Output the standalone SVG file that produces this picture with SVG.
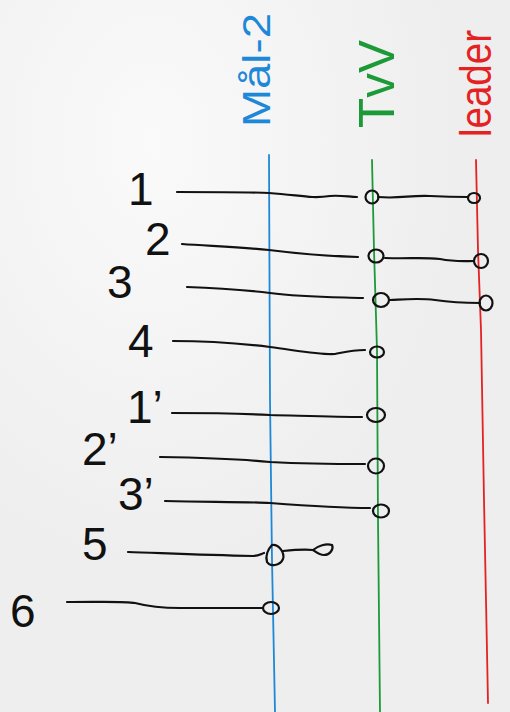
<svg xmlns="http://www.w3.org/2000/svg" width="510" height="712" viewBox="0 0 510 712">
<defs>
<radialGradient id="g1" cx="0.3" cy="0.2" r="0.6"><stop offset="0" stop-color="#fafafa"/><stop offset="1" stop-color="#eeeeee"/></radialGradient>
<style>
.num{font-family:"Liberation Sans","DejaVu Sans",sans-serif;font-size:46px;fill:#111}
.lab{font-family:"Liberation Sans","DejaVu Sans",sans-serif}
.ln{fill:none;stroke:#111;stroke-width:2.2;stroke-linecap:round;stroke-linejoin:round}
.c{fill:none;stroke:#111;stroke-width:2.2}
.v{fill:none;stroke-width:1.8;stroke-linecap:round}
</style>
</defs>
<rect width="510" height="712" fill="url(#g1)"/>
<g id="lanes">
<g id="lane-mal2"><path class="v" stroke="#1e88d8" d="M269,155 L270,400 L272,560 L275,712"/>
<text class="lab" fill="#1e88d8" font-size="38" textLength="114" lengthAdjust="spacingAndGlyphs" transform="translate(270,127) rotate(-90)">Mål-2</text></g>
<g id="lane-tvv"><path class="v" stroke="#1c9a38" d="M372,160 L374,250 L377,350 L378,520 L380,712"/>
<text class="lab" fill="#1c9a38" font-size="50" textLength="88" lengthAdjust="spacingAndGlyphs" transform="translate(394,128) rotate(-90)">TvV</text></g>
<g id="lane-leader"><path class="v" stroke="#e52222" d="M476,160 L478,250 L481,330 L484,500 L486,600 L488,703"/>
<text class="lab" fill="#e52222" font-size="44" textLength="107" lengthAdjust="spacingAndGlyphs" transform="translate(491,137) rotate(-90)">leader</text></g>
</g>
<g id="labels">
<text class="num" x="128" y="205" font-size="52">1</text>
<text class="num" x="145" y="255">2</text>
<text class="num" x="107" y="298" font-size="40">3</text>
<text class="num" x="128" y="357">4</text>
<text class="num" x="127" y="423">1’</text>
<text class="num" x="82" y="465">2’</text>
<text class="num" x="118" y="510">3’</text>
<text class="num" x="82" y="560">5</text>
<text class="num" x="10" y="627">6</text>
</g>
<g id="connectors">
<path class="ln" d="M177,192 C220,192 250,192 269,193 C300,195 310,199 330,196 C340,195 350,197 357,197"/>
<ellipse class="c" cx="372" cy="197" rx="6.5" ry="6.5"/>
<path class="ln" d="M378,197 C400,199 410,195 430,196 C450,197 460,197 468,197"/>
<ellipse class="c" cx="474" cy="198" rx="6" ry="5"/>

<path class="ln" d="M182,244 C210,246 240,247 269,250 C300,254 330,256 358,257"/>
<ellipse class="c" cx="376" cy="256" rx="7.5" ry="6.5"/>
<path class="ln" d="M385,258 C410,259 420,257 440,259 C455,262 465,261 474,261"/>
<ellipse class="c" cx="481" cy="261" rx="7" ry="7"/>

<path class="ln" d="M187,287 C220,288 245,290 270,293 C300,297 330,297 363,298"/>
<ellipse class="c" cx="381" cy="300" rx="8" ry="7"/>
<path class="ln" d="M390,300 C410,299 420,298 435,300 C455,303 465,303 480,303"/>
<ellipse class="c" cx="486" cy="303" rx="6.5" ry="7.5"/>

<path class="ln" d="M173,341 C210,341 245,344 270,347 C300,351 320,355 335,354 C345,352 352,350 365,350"/>
<ellipse class="c" cx="377" cy="352" rx="7" ry="5.5"/>

<path class="ln" d="M172,413 C220,413 250,414 270,415 C310,416 340,417 362,417"/>
<ellipse class="c" cx="376" cy="415" rx="9" ry="7"/>

<path class="ln" d="M160,457 C220,458 250,460 270,462 C310,464 340,464 365,464"/>
<ellipse class="c" cx="376" cy="466" rx="8" ry="7.5"/>

<path class="ln" d="M165,501 C220,502 250,502 270,503 C310,506 340,508 370,508"/>
<ellipse class="c" cx="381" cy="511" rx="8" ry="6.5"/>

<path class="ln" d="M128,552 C160,553 200,555 253,556 C258,556 261,554 264,553"/>
<path class="c" d="M272,545 C268,549 265,556 267,562 C270,567 280,566 283,559 C285,553 279,544 272,545 Z"/>
<path class="ln" d="M283,551 C293,550 303,549 313,550"/>
<path class="c" d="M313,550 C318,546 326,543 332,545 C334,549 330,555 324,555 C319,555 316,552 313,550 Z"/>

<path class="ln" d="M67,602 C100,602 125,601 135,603 C150,607 160,608 180,608 C210,608 235,608 262,608"/>
<ellipse class="c" cx="271" cy="608" rx="8" ry="6"/>
</g>
</svg>
